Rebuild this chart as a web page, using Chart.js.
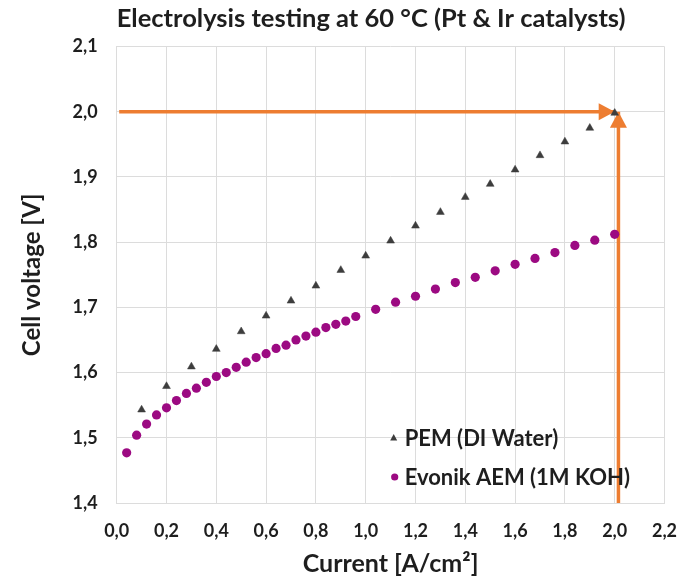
<!DOCTYPE html>
<html>
<head>
<meta charset="utf-8">
<title>Electrolysis testing at 60 °C</title>
<script src="https://cdn.jsdelivr.net/npm/chart.js@4/dist/chart.umd.min.js"></script>
<style>
  html, body { margin: 0; padding: 0; background: #ffffff; }
  canvas { display: block; }
</style>
</head>
<body>
<canvas id="chart" width="682" height="582"></canvas>
<script>
// PEM cell (DI water): current density [A/cm²] and cell voltage [V]
const pemCurrent = [0.1, 0.2, 0.3, 0.4, 0.5, 0.6, 0.7, 0.8, 0.9, 1.0,
                    1.1, 1.2, 1.3, 1.4, 1.5, 1.6, 1.7, 1.8, 1.9, 2.0];
const pemVoltage = [1.543, 1.579, 1.609, 1.636, 1.663, 1.687, 1.710, 1.733, 1.757, 1.779,
                    1.802, 1.825, 1.846, 1.869, 1.889, 1.911, 1.933, 1.954, 1.975, 1.998];

// Evonik AEM cell (1M KOH)
const aemCurrent = [0.04, 0.08, 0.12, 0.16, 0.20, 0.24, 0.28, 0.32, 0.36, 0.40,
                    0.44, 0.48, 0.52, 0.56, 0.60, 0.64, 0.68, 0.72, 0.76, 0.80,
                    0.84, 0.88, 0.92, 0.96, 1.04, 1.12, 1.20, 1.28, 1.36, 1.44,
                    1.52, 1.60, 1.68, 1.76, 1.84, 1.92, 2.00];
const aemVoltage = [1.477, 1.504, 1.521, 1.535, 1.546, 1.557, 1.568, 1.576, 1.585, 1.594,
                    1.600, 1.608, 1.616, 1.623, 1.629, 1.637, 1.642, 1.650, 1.656, 1.662,
                    1.669, 1.674, 1.679, 1.686, 1.697, 1.708, 1.717, 1.728, 1.738, 1.746,
                    1.756, 1.766, 1.775, 1.784, 1.795, 1.803, 1.812];

// Guide arrows marking the 2 V / 2 A/cm² operating point
const hArrowX = [0.01, 2.0];
const hArrowY = [2.0, 2.0];
const vArrowX = [2.015, 2.015];
const vArrowY = [1.4, 2.0];

// Axis tick labels (decimal comma)
const xTickLabels = ['0,0', '0,2', '0,4', '0,6', '0,8', '1,0', '1,2', '1,4', '1,6', '1,8', '2,0', '2,2'];
const yTickLabels = ['1,4', '1,5', '1,6', '1,7', '1,8', '1,9', '2,0', '2,1'];

const seriesNames = ['PEM (DI Water)', 'Evonik AEM (1M KOH)'];

const X_MIN = 0, X_MAX = 2.2, X_STEP = 0.2;
const Y_MIN = 1.4, Y_MAX = 2.1, Y_STEP = 0.1;

const ORANGE = '#ED7D31';
const PEM_COLOR = '#3d3d3d';
const AEM_COLOR = '#9c0a82';
const TEXT_COLOR = '#1e1e1e';
const GRID_COLOR = '#dcdcdc';
const FONT = 'Lato';

const toPoints = (xs, ys) => xs.map((x, i) => ({ x: x, y: ys[i] }));

// Arrowheads at the final point of each guide line
const arrowHeads = {
  id: 'arrowHeads',
  beforeDatasetsDraw(chart) {
    const ctx = chart.ctx;
    chart.data.datasets.forEach((ds, i) => {
      if (!ds.arrowHead) return;
      const pts = chart.getDatasetMeta(i).data;
      if (pts.length < 2) return;
      const a = pts[pts.length - 2], b = pts[pts.length - 1];
      const ang = Math.atan2(b.y - a.y, b.x - a.x);
      const len = 16, half = 8.5;
      ctx.save();
      ctx.translate(b.x, b.y);
      ctx.rotate(ang);
      ctx.beginPath();
      ctx.moveTo(0, 0);
      ctx.lineTo(-len, -half);
      ctx.lineTo(-len, half);
      ctx.closePath();
      ctx.fillStyle = ds.borderColor;
      ctx.fill();
      ctx.restore();
    });
  }
};

// Legend drawn inside the lower right of the plot area
const insideLegend = {
  id: 'insideLegend',
  afterDraw(chart) {
    const ctx = chart.ctx;
    const area = chart.chartArea;
    const entries = chart.data.datasets.filter(ds => ds.inLegend);
    const x0 = area.left + 277;
    const rows = [area.bottom - 65, area.bottom - 26];
    ctx.save();
    ctx.font = 'bold 22px ' + FONT;
    ctx.textBaseline = 'middle';
    ctx.textAlign = 'left';
    entries.forEach((ds, i) => {
      const y = rows[i];
      ctx.fillStyle = ds.pointBackgroundColor;
      ctx.beginPath();
      if (ds.pointStyle === 'triangle') {
        ctx.moveTo(x0, y - 4);
        ctx.lineTo(x0 + 3.5, y + 2.5);
        ctx.lineTo(x0 - 3.5, y + 2.5);
        ctx.closePath();
      } else {
        ctx.arc(x0 + 1, y, 3.6, 0, Math.PI * 2);
      }
      ctx.fill();
      ctx.fillStyle = TEXT_COLOR;
      ctx.fillText(ds.label, x0 + 11, y + 1);
    });
    ctx.restore();
  }
};

new Chart(document.getElementById('chart'), {
  type: 'scatter',
  data: {
    datasets: [
      {
        label: seriesNames[0],
        inLegend: true,
        data: toPoints(pemCurrent, pemVoltage),
        pointStyle: 'triangle',
        pointRadius: 4.5,
        pointBackgroundColor: PEM_COLOR,
        pointBorderColor: PEM_COLOR,
        pointBorderWidth: 0.5,
        showLine: false,
        order: 1
      },
      {
        label: seriesNames[1],
        inLegend: true,
        data: toPoints(aemCurrent, aemVoltage),
        pointStyle: 'circle',
        pointRadius: 4.6,
        pointBackgroundColor: AEM_COLOR,
        pointBorderColor: AEM_COLOR,
        pointBorderWidth: 0,
        showLine: false,
        order: 2
      },
      {
        label: 'voltage guide',
        arrowHead: true,
        data: toPoints(hArrowX, hArrowY),
        showLine: true,
        borderColor: ORANGE,
        borderWidth: 3.5,
        pointRadius: 0,
        order: 3
      },
      {
        label: 'current guide',
        arrowHead: true,
        data: toPoints(vArrowX, vArrowY),
        showLine: true,
        borderColor: ORANGE,
        borderWidth: 3.5,
        pointRadius: 0,
        order: 3
      }
    ]
  },
  options: {
    responsive: false,
    animation: false,
    devicePixelRatio: 1,
    layout: { padding: { left: 0, right: 17.5, top: 0, bottom: 0 } },
    plugins: {
      legend: { display: false },
      tooltip: { enabled: false },
      title: {
        display: true,
        fullSize: false,
        align: 'start',
        text: 'Electrolysis testing at 60 °C (Pt & Ir catalysts)',
        color: TEXT_COLOR,
        font: { family: FONT, size: 25.5, weight: 'bold', lineHeight: 1.2 },
        padding: { top: 3.2, bottom: 12.7 }
      }
    },
    scales: {
      x: {
        type: 'linear',
        min: X_MIN,
        max: X_MAX,
        afterFit: s => { s.height = 79; s.paddingLeft = 0; s.paddingRight = 0; },
        ticks: {
          stepSize: X_STEP,
          padding: 17,
          color: TEXT_COLOR,
          font: { family: FONT, size: 18, weight: 'bold' },
          callback: v => xTickLabels[Math.round((v - X_MIN) / X_STEP)]
        },
        grid: { color: GRID_COLOR, lineWidth: 1, drawTicks: false },
        border: { color: GRID_COLOR, width: 1 },
        title: {
          display: true,
          text: 'Current [A/cm²]',
          color: TEXT_COLOR,
          font: { family: FONT, size: 25, weight: 'bold', lineHeight: 1.2 },
          padding: { top: 0, bottom: 3 }
        }
      },
      y: {
        type: 'linear',
        min: Y_MIN,
        max: Y_MAX,
        afterFit: s => { s.width = 116.7; },
        ticks: {
          stepSize: Y_STEP,
          padding: 19,
          color: TEXT_COLOR,
          font: { family: FONT, size: 18, weight: 'bold' },
          callback: v => yTickLabels[Math.round((v - Y_MIN) / Y_STEP)]
        },
        grid: { color: GRID_COLOR, lineWidth: 1, drawTicks: false },
        border: { color: GRID_COLOR, width: 1 },
        title: {
          display: true,
          text: 'Cell voltage [V]',
          color: TEXT_COLOR,
          font: { family: FONT, size: 24, weight: 'bold', lineHeight: 1.2 },
          padding: { top: 18, bottom: 0 }
        }
      }
    }
  },
  plugins: [arrowHeads, insideLegend]
});
</script>
</body>
</html>
